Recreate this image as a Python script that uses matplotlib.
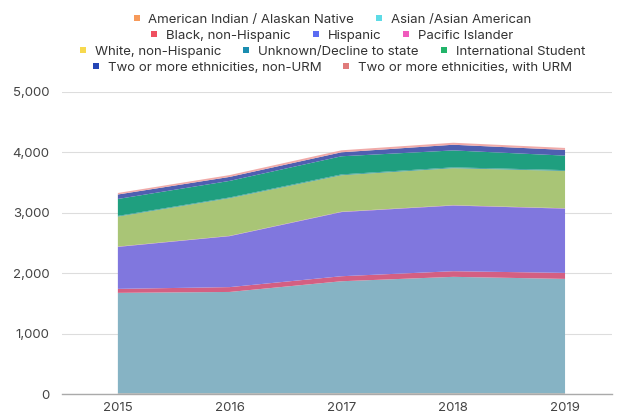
import matplotlib
matplotlib.use("Agg")
import matplotlib.pyplot as plt
from matplotlib.lines import Line2D
from matplotlib.ticker import FuncFormatter

plt.rcParams['font.family'] = ['Inter', 'DejaVu Sans']

years = [2015, 2016, 2017, 2018, 2019]

american_indian = [8, 8, 9, 9, 8]
asian = [1665, 1680, 1856, 1929, 1896]
black = [66, 80, 83, 93, 99]
hispanic = [694, 843, 1061, 1086, 1063]
pacific_islander = [5, 5, 6, 6, 6]
white = [496, 623, 603, 612, 617]
unknown = [12, 12, 14, 14, 14]
international = [280, 274, 300, 280, 240]
two_non_urm = [74, 66, 66, 94, 94]
two_urm = [25, 30, 33, 33, 33]

labels = [
    "American Indian / Alaskan Native",
    "Asian /Asian American",
    "Black, non-Hispanic",
    "Hispanic",
    "Pacific Islander",
    "White, non-Hispanic",
    "Unknown/Decline to state",
    "International Student",
    "Two or more ethnicities, non-URM",
    "Two or more ethnicities, with URM",
]
series = [american_indian, asian, black, hispanic, pacific_islander,
          white, unknown, international, two_non_urm, two_urm]

area_colors = ["#e6a07a", "#86b3c4", "#d45f82", "#8077de", "#c070c0",
               "#a9c576", "#3a9a9a", "#1f9f7f", "#4f5fb0", "#f0aaa8"]
key_colors = ["#f79a5a", "#5ddbe6", "#ef5060", "#5b6cf2", "#f05bbd",
              "#f7d94e", "#1a8db0", "#22b46a", "#2445b5", "#e07b7b"]

fig = plt.figure(figsize=(6.21, 4.15), dpi=100)
ax = fig.add_axes([0.0998, 0.0506, 0.8857, 0.7284])

ax.stackplot(years, *series, colors=area_colors, linewidth=0)

ax.set_xlim(2014.5, 2019.42)
ax.set_ylim(0, 5000)
ax.set_xticks(years)
ax.set_yticks(range(0, 5001, 1000))
ax.yaxis.set_major_formatter(FuncFormatter(lambda v, p: f"{int(v):,}"))
ax.tick_params(length=0, labelsize=9.5, colors="#444444")
ax.tick_params(axis="y", pad=9)
ax.tick_params(axis="x", pad=6)
ax.grid(axis="y", color="#dddddd", linewidth=0.8)
ax.set_axisbelow(True)
for s in ["top", "right", "left"]:
    ax.spines[s].set_visible(False)
ax.spines["bottom"].set_color("#aaaaaa")
ax.spines["bottom"].set_linewidth(1.0)
ax.spines["bottom"].set_zorder(5)

# Legend laid out in centred rows
rows = [[0, 1], [2, 3, 4], [5, 6, 7], [8, 9]]
row_y = [1 - 19.5 / 415, 1 - 35.5 / 415, 1 - 51.5 / 415, 1 - 67.5 / 415]
cx = 332 / 621
for idx, yy in zip(rows, row_y):
    handles = [Line2D([], [], marker="s", linestyle="", markersize=5,
                      markerfacecolor=key_colors[i], markeredgewidth=0)
               for i in idx]
    fig.legend(handles, [labels[i] for i in idx], loc="center",
               bbox_to_anchor=(cx, yy), ncol=len(idx), frameon=False,
               fontsize=9.5, handlelength=0.6, handletextpad=0.6,
               columnspacing=1.6, borderpad=0, borderaxespad=0,
               labelcolor="#333333")

fig.savefig("out.png", dpi=100)
